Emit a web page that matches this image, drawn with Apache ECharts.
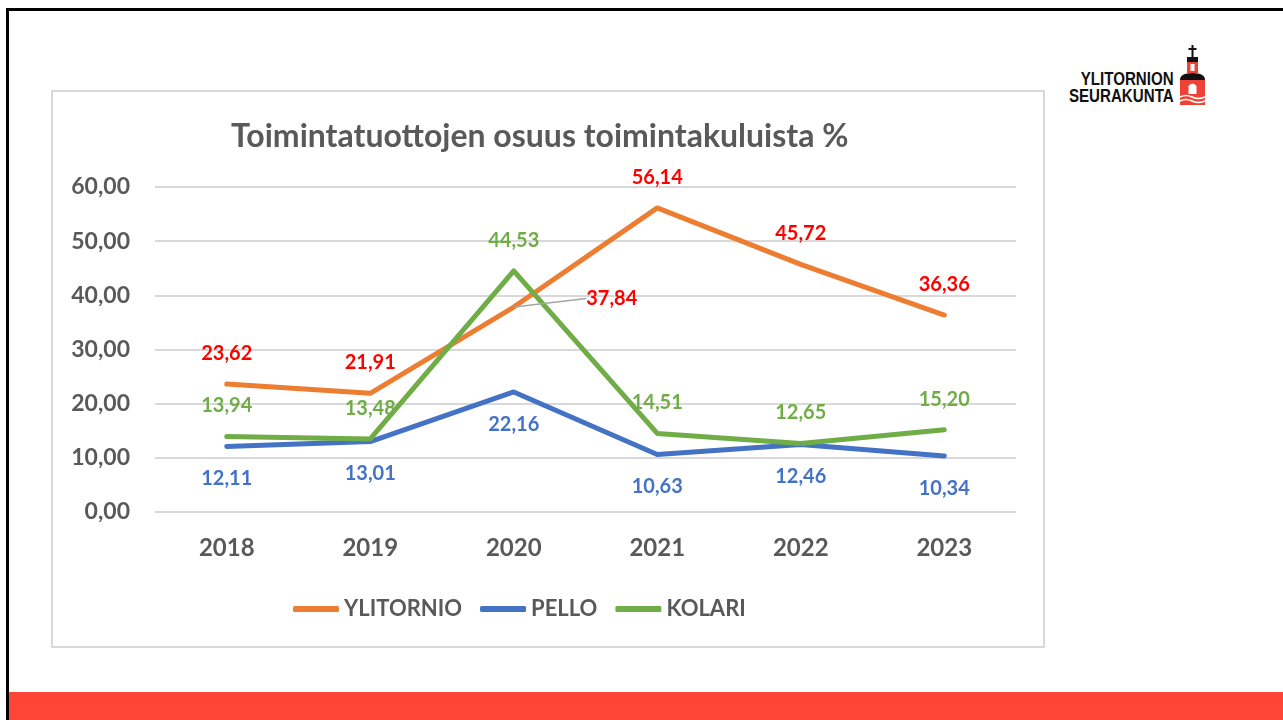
<!DOCTYPE html>
<html>
<head>
<meta charset="utf-8">
<script src="https://cdn.jsdelivr.net/npm/echarts@6/dist/echarts.min.js"></script>
<style>
  body { margin: 0; background: #fff; }
  #page { position: relative; width: 1283px; height: 720px; overflow: hidden; background: #fff; }
  .topline { position: absolute; left: 6px; top: 8px; width: 1277px; height: 3px; background: #000; }
  .leftline { position: absolute; left: 6px; top: 8px; width: 3px; height: 712px; background: #000; }
  .redbar { position: absolute; left: 9px; top: 692px; width: 1274px; height: 28px; background: #ff4636; }
  .box { position: absolute; left: 51px; top: 90px; width: 990px; height: 554px; border: 2px solid #d9d9d9; }
  .logo { position: absolute; left: 1030px; top: 71px; width: 144px; text-align: right;
          font-family: "Liberation Sans", sans-serif; font-weight: bold; font-size: 18px; line-height: 17px; color: #111; }
  .logo span { display: inline-block; transform: scaleX(0.84); transform-origin: right center; }
  #church { position: absolute; left: 1179px; top: 44px; }
  #Echartone { position: absolute; left: 0; top: 0; width: 1283px; height: 720px; }
</style>
</head>
<body>
<div id="page">
  <div class="topline"></div>
  <div class="leftline"></div>
  <div class="redbar"></div>
  <div class="box"></div>
  <div class="logo"><span>YLITORNION</span><br><span>SEURAKUNTA</span></div>
  <svg id="church" width="28" height="64" viewBox="0 0 28 64">
    <rect x="12.5" y="1" width="2" height="12" fill="#111"/>
    <rect x="9.5" y="4" width="8" height="2" fill="#111"/>
    <rect x="8" y="13" width="11" height="5" fill="#111"/>
    <rect x="8" y="18" width="11" height="11" fill="#ef4136"/>
    <rect x="11.5" y="20" width="4" height="7" fill="#fff"/>
    <path d="M1 36 Q1 29 13.5 29 Q26 29 26 36 Z" fill="#111"/>
    <rect x="1" y="36" width="25" height="25" fill="#ef4136"/>
    <path d="M9.5 50 L9.5 42 Q13.5 37 17.5 42 L17.5 50 Z" fill="#fff"/>
    <path d="M1 53 Q7 50 13 53 T26 53" stroke="#fff" stroke-width="1.5" fill="none"/>
    <path d="M1 57 Q7 54 13 57 T26 57" stroke="#fff" stroke-width="1.5" fill="none"/>
  </svg>
  <div id="Echartone"></div>
</div>
<script type="text/javascript">
// vuodet ja sarjat
var years = ['2018', '2019', '2020', '2021', '2022', '2023'];
var ylitornio = [23.62, 21.91, 37.84, 56.14, 45.72, 36.36];
var pello = [12.11, 13.01, 22.16, 10.63, 12.46, 10.34];
var kolari = [13.94, 13.48, 44.53, 14.51, 12.65, 15.20];
// y-akselin asteikko
var yMin = 0, yMax = 60, yStep = 10;

function fi(v) {
	return Number(v).toFixed(2).replace('.', ',');
}

// 2020 ylitornio-arvolla on ohjausviiva
var ylitornioData = ylitornio.map(function (v, i) {
	if (i === 2) {
		return { value: v, labelLine: { show: true, lineStyle: { color: '#a6a6a6', width: 1.5 } } };
	}
	return v;
});

var myChart1 = echarts.init(document.getElementById('Echartone'));
var option = {
	animation: false,
	title: {
		text: 'Toimintatuottojen osuus toimintakuluista %',
		left: 226,
		top: 116,
		textStyle: { fontFamily: 'Lato', fontSize: 32, fontWeight: 'bold', color: '#595959' }
	},
	legend: {
		data: ['YLITORNIO', 'PELLO', 'KOLARI'],
		left: 288,
		top: 593,
		icon: 'roundRect',
		itemWidth: 46,
		itemHeight: 6,
		itemGap: 18,
		textStyle: { fontFamily: 'Lato', fontSize: 22, fontWeight: 'bold', color: '#595959' }
	},
	grid: { left: 155, right: 267, top: 187, bottom: 208 },
	xAxis: {
		type: 'category',
		data: years,
		axisLine: { show: false },
		axisTick: { show: false },
		axisLabel: { margin: 24, fontFamily: 'Lato', fontSize: 24, fontWeight: 'bold', color: '#595959' }
	},
	yAxis: {
		type: 'value',
		min: yMin,
		max: yMax,
		interval: yStep,
		axisLine: { show: false },
		axisTick: { show: false },
		splitLine: { lineStyle: { color: '#d9d9d9', width: 2 } },
		axisLabel: {
			margin: 25,
			fontFamily: 'Lato', fontSize: 23, fontWeight: 'bold', color: '#595959',
			formatter: function (v) { return fi(v); }
		}
	},
	series: [{
		name: 'YLITORNIO',
		type: 'line',
		data: ylitornioData,
		symbol: 'circle',
		symbolSize: 1,
		lineStyle: { color: '#ed7d31', width: 5, cap: 'round', join: 'round' },
		itemStyle: { color: '#ed7d31' },
		label: {
			show: true, position: 'top', distance: 20,
			fontFamily: 'Lato', fontSize: 20, fontWeight: 'bold', color: '#ff0000',
			formatter: function (p) { return fi(p.value); }
		},
		labelLayout: function (params) {
			if (params.dataIndex === 2) {
				return { dx: 98, dy: 22 };
			}
			return {};
		}
	}, {
		name: 'PELLO',
		type: 'line',
		data: pello,
		symbol: 'circle',
		symbolSize: 1,
		lineStyle: { color: '#4472c4', width: 5, cap: 'round', join: 'round' },
		itemStyle: { color: '#4472c4' },
		label: {
			show: true, position: 'bottom', distance: 22,
			fontFamily: 'Lato', fontSize: 20, fontWeight: 'bold', color: '#4472c4',
			formatter: function (p) { return fi(p.value); }
		}
	}, {
		name: 'KOLARI',
		type: 'line',
		data: kolari,
		symbol: 'circle',
		symbolSize: 1,
		lineStyle: { color: '#70ad47', width: 5, cap: 'round', join: 'round' },
		itemStyle: { color: '#70ad47' },
		label: {
			show: true, position: 'top', distance: 20,
			fontFamily: 'Lato', fontSize: 20, fontWeight: 'bold', color: '#70ad47',
			formatter: function (p) { return fi(p.value); }
		}
	}]
};
myChart1.setOption(option);
</script>
</body>
</html>
